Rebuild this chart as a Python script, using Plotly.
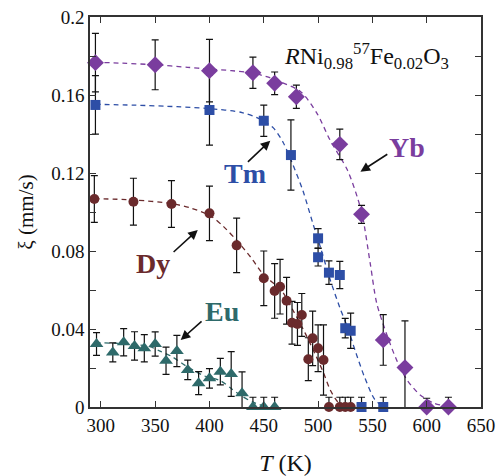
import plotly.graph_objects as go

# ---------------- data ----------------
yb_T = [295, 350, 400, 440, 460, 480, 520, 540, 560, 580, 600, 620]
yb_xi = [0.1766, 0.1755, 0.1725, 0.1714, 0.1660, 0.1591, 0.1347, 0.0988, 0.0344, 0.0202, 0, 0]
yb_err = [0.015, 0.0128, 0.016, 0.008, 0.0058, 0.006, 0.0078, 0.0046, 0.013, 0.024, 0.0045, 0.005]

tm_T = [295, 400, 450, 475, 500, 500, 510, 520, 525, 530, 540, 560]
tm_xi = [0.1549, 0.1523, 0.1468, 0.1292, 0.0865, 0.0768, 0.0689, 0.0677, 0.0404, 0.0391, 0, 0]
tm_err = [0.015, 0.018, 0.008, 0.018, 0.005, 0.0045, 0.006, 0.007, 0.005, 0.009, 0.005, 0.005]

dy_T = [294, 330, 365, 400, 425, 450, 460, 465, 471, 476, 481, 485, 491, 495, 500, 505, 510, 520, 525, 530]
dy_xi = [0.1067, 0.1053, 0.1041, 0.0993, 0.0829, 0.0660, 0.0595, 0.0617, 0.0545, 0.0432, 0.0426,
         0.0472, 0.0245, 0.0352, 0.0301, 0.0241, 0, 0, 0, 0]
dy_err = [0.012, 0.012, 0.012, 0.014, 0.014, 0.014, 0.014, 0.014, 0.012, 0.011, 0.011,
          0.011, 0.011, 0.014, 0.012, 0.018, 0.005, 0.005, 0.005, 0.005]

eu_T = [296, 311, 321, 331, 340, 350, 360, 370, 380, 390, 400, 410, 420, 430, 440, 450, 460]
eu_xi = [0.0323, 0.0280, 0.0332, 0.0313, 0.0301, 0.0323, 0.0237, 0.0287, 0.0190, 0.0122,
         0.0147, 0.0181, 0.0169, 0.0070, 0, 0, 0]
eu_err = [0.0058, 0.0049, 0.007, 0.0073, 0.007, 0.0062, 0.007, 0.008, 0.005, 0.0059,
          0.005, 0.0068, 0.0115, 0.011, 0.005, 0.005, 0.005]

# dashed guide curves
yb_curve_T = [295, 320, 350, 380, 400, 420, 440, 455, 465, 484, 499, 511, 527, 536, 541, 548, 554,
              564, 573, 582, 594, 607, 620]
yb_curve_xi = [0.1768, 0.1763, 0.1755, 0.1742, 0.1733, 0.1725, 0.1712, 0.1690, 0.1668, 0.1617,
               0.1506, 0.1369, 0.1215, 0.1078, 0.0976, 0.0737, 0.0532, 0.0360, 0.0232, 0.0138,
               0.0062, 0.0019, 0.0003]
tm_curve_T = [295, 330, 370, 400, 430, 447, 459, 468, 477, 486, 495, 502, 511, 520, 527, 535, 543, 552, 560]
tm_curve_xi = [0.1552, 0.1548, 0.1540, 0.1530, 0.1510, 0.1475, 0.1430, 0.1355, 0.1240, 0.1110,
               0.0945, 0.0822, 0.0655, 0.0510, 0.0410, 0.0275, 0.0150, 0.0040, 0.0]
dy_curve_T = [294, 330, 365, 383, 401, 413, 425, 438, 450, 466, 477, 488, 497, 505, 511, 518, 525]
dy_curve_xi = [0.1068, 0.1062, 0.1043, 0.1020, 0.0980, 0.0925, 0.0855, 0.0768, 0.0677, 0.0600,
               0.0495, 0.0380, 0.0275, 0.0175, 0.0090, 0.0027, 0.0]
eu_curve_T = [295, 320, 345, 355, 365, 380, 395, 410, 420, 430, 440, 450]
eu_curve_xi = [0.0330, 0.0325, 0.0310, 0.0285, 0.0260, 0.0205, 0.0160, 0.0135, 0.0095, 0.0055, 0.0025, 0.0005]

x_ticks = [300, 350, 400, 450, 500, 550, 600, 650]
y_ticks = [0, 0.02, 0.04, 0.06, 0.08, 0.10, 0.12, 0.14, 0.16, 0.18, 0.2]
y_ticktext = ["0", "", "0.04", "", "0.08", "", "0.12", "", "0.16", "", "0.2"]

# ---------------- styles ----------------
C_YB = "#7A3D9E"
C_TM = "#2D4EA6"
C_DY = "#6A2A2C"
C_EU = "#2E6A6A"
SERIF = '"Times New Roman", "Liberation Serif", Times, serif'

fig = go.Figure()

def add_curve(T, xi, color):
    fig.add_trace(go.Scatter(x=T, y=xi, mode="lines", line=dict(color=color, width=1.3, dash="5px,4px",
                                                               shape="spline", smoothing=0.8),
                             hoverinfo="skip", showlegend=False))

def add_points(T, xi, err, color, symbol, size):
    fig.add_trace(go.Scatter(x=T, y=xi, mode="markers", cliponaxis=False,
                             marker=dict(color=color, symbol=symbol, size=size, line=dict(width=0)),
                             error_y=dict(type="data", array=err, visible=True, color="#111",
                                          thickness=1.2, width=3.5),
                             showlegend=False))

add_curve(eu_curve_T, eu_curve_xi, C_EU)
add_curve(dy_curve_T, dy_curve_xi, C_DY)
add_curve(tm_curve_T, tm_curve_xi, C_TM)
add_curve(yb_curve_T, yb_curve_xi, C_YB)

add_points(eu_T, eu_xi, eu_err, C_EU, "triangle-up", 12)
add_points(dy_T, dy_xi, dy_err, C_DY, "circle", 10)
add_points(tm_T, tm_xi, tm_err, C_TM, "square", 10)
add_points(yb_T, yb_xi, yb_err, C_YB, "diamond", 13)

def label(text, x, y, color):
    fig.add_annotation(x=x, y=y, xref="x", yref="y", text="<b>%s</b>" % text, showarrow=False,
                       font=dict(family=SERIF, size=28, color=color), xanchor="center", yanchor="middle")

def arrow(x0, y0, x1, y1):
    fig.add_annotation(x=x1, y=y1, ax=x0, ay=y0, xref="x", yref="y", axref="x", ayref="y",
                       text="", showarrow=True, arrowhead=2, arrowsize=1.2, arrowwidth=1.6,
                       arrowcolor="#111", standoff=0, startstandoff=0)

label("Tm", 433, 0.1200, C_TM)
arrow(434, 0.1250, 456, 0.1366)
label("Dy", 348, 0.0735, C_DY)
arrow(365.6, 0.0788, 389.2, 0.0908)
label("Eu", 411.6, 0.0490, C_EU)
arrow(394.1, 0.0446, 373.5, 0.0344)
label("Yb", 582, 0.1330, C_YB)
arrow(565.1, 0.1301, 539, 0.1207)

fig.add_annotation(x=467, y=0.180, xref="x", yref="y", showarrow=False, xanchor="left", yanchor="middle",
                   text="<i>R</i>Ni<sub>0.98</sub><sup>57</sup>Fe<sub>0.02</sub>O<sub>3</sub>",
                   font=dict(family=SERIF, size=24, color="#111"))

axis_common = dict(showline=True, linecolor="#333", linewidth=1.5, mirror="ticks", ticks="inside",
                   ticklen=6, tickwidth=1.2, tickcolor="#333", showgrid=False, zeroline=False,
                   automargin=False, tickfont=dict(family=SERIF, size=19, color="#111"))

fig.update_xaxes(range=[290, 650], tickvals=x_ticks,
                 title=dict(text="<i>T</i> (K)", font=dict(family=SERIF, size=24, color="#111"), standoff=20),
                 **axis_common)
fig.update_yaxes(range=[0, 0.2], tickvals=y_ticks, ticktext=y_ticktext,
                 title=dict(text="ξ (mm/s)", font=dict(family=SERIF, size=21, color="#111"), standoff=12),
                 **axis_common)

fig.update_layout(width=503, height=476, margin=dict(l=90, r=22, t=17, b=69),
                  plot_bgcolor="white", paper_bgcolor="white", showlegend=False,
                  font=dict(family=SERIF))

fig.write_html("out.html", config={"displayModeBar": False},
               post_script="document.body.style.margin='0';document.body.style.padding='0';")
